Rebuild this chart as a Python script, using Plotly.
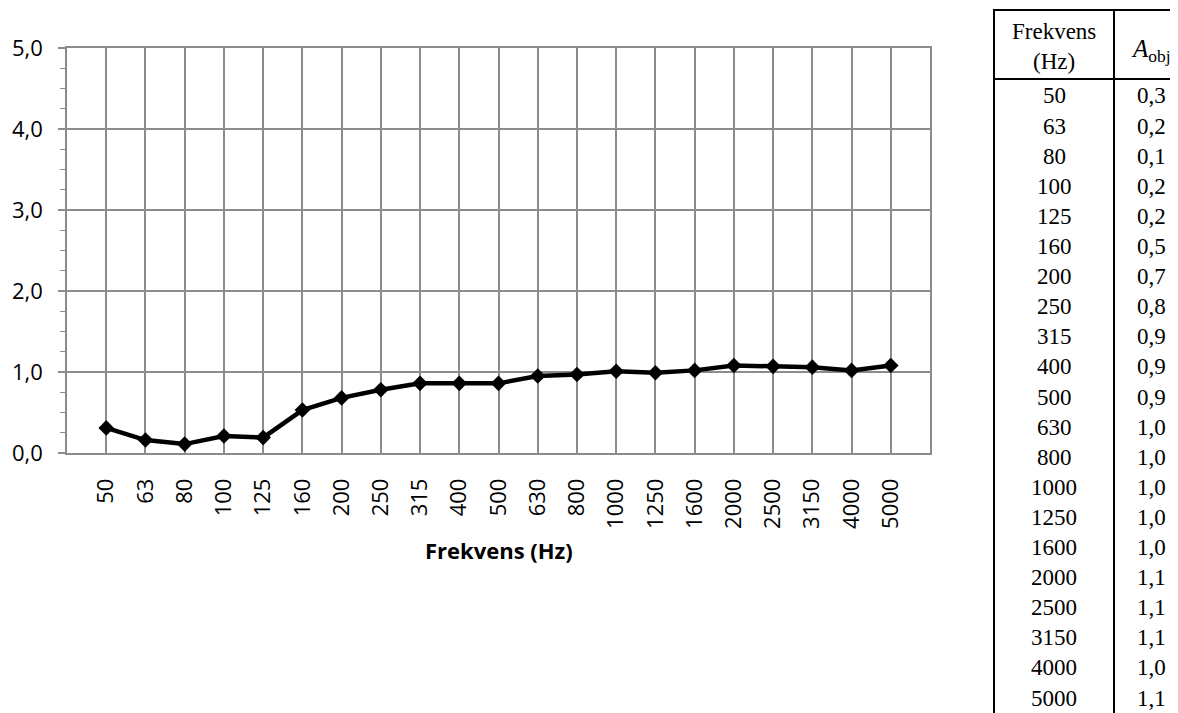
import plotly.graph_objects as go

# ---- data ----
freq_labels = ["50", "63", "80", "100", "125", "160", "200", "250", "315", "400", "500",
               "630", "800", "1000", "1250", "1600", "2000", "2500", "3150", "4000", "5000"]
a_obj = [0.31, 0.16, 0.11, 0.21, 0.19, 0.53, 0.68, 0.78, 0.86, 0.86, 0.86,
         0.95, 0.97, 1.01, 0.99, 1.02, 1.08, 1.07, 1.06, 1.02, 1.08]
table_vals = [0.3, 0.2, 0.1, 0.2, 0.2, 0.5, 0.7, 0.8, 0.9, 0.9, 0.9,
              1.0, 1.0, 1.0, 1.0, 1.0, 1.1, 1.1, 1.1, 1.0, 1.1]
y_ticks = [0, 1, 2, 3, 4, 5]
x_title = "Frekvens (Hz)"
table_header = ["Frekvens<br>(Hz)", "<i>A</i><sub>obj</sub>"]

# ---- layout geometry (pixels in the 1178x713 window; page body has 8px margin) ----
OFF = 8
W, H = 1178 - OFF, 713 - OFF
L, R, T, B = 67 - OFF, 930 - OFF, 48 - OFF, 453 - OFF
GRID = "#8c8c8c"


def px(x):
    return (x - OFF - L) / (R - L)


def py(y):
    return (B - (y - OFF)) / (B - T)


fig = go.Figure()
fig.add_trace(go.Scatter(
    x=list(range(len(freq_labels))),
    y=a_obj,
    mode="lines+markers",
    line=dict(color="black", width=4.5),
    marker=dict(symbol="diamond", size=12, color="black"),
    showlegend=False,
    hoverinfo="skip",
))

shapes = []
annotations = []

# table frame
tx0, tx1, txm = 994, 1190, 1114
ty0, ty1, tyh = 10, 725, 79
lw = 2
shapes.append(dict(type="rect", xref="paper", yref="paper",
                   x0=px(tx0), x1=px(tx1), y0=py(ty0), y1=py(ty1),
                   line=dict(color="black", width=lw)))
shapes.append(dict(type="line", xref="paper", yref="paper",
                   x0=px(txm), x1=px(txm), y0=py(ty0), y1=py(ty1),
                   line=dict(color="black", width=lw)))
shapes.append(dict(type="line", xref="paper", yref="paper",
                   x0=px(tx0), x1=px(tx1), y0=py(tyh), y1=py(tyh),
                   line=dict(color="black", width=lw)))

serif = "Liberation Serif, Times New Roman, serif"
c1, c2 = 1054, 1151
annotations.append(dict(text=table_header[0], xref="paper", yref="paper",
                        x=px(c1), y=py(46), showarrow=False,
                        font=dict(family=serif, size=23, color="black"),
                        xanchor="center", yanchor="middle"))
annotations.append(dict(text=table_header[1], xref="paper", yref="paper",
                        x=px(c2), y=py(50), showarrow=False,
                        font=dict(family=serif, size=25, color="black"),
                        xanchor="center", yanchor="middle"))
row0, row_h = 96, 30.1
for i, (f, v) in enumerate(zip(freq_labels, table_vals)):
    yy = py(row0 + i * row_h)
    annotations.append(dict(text=f, xref="paper", yref="paper", x=px(c1), y=yy,
                            showarrow=False, xanchor="center", yanchor="middle",
                            font=dict(family=serif, size=23, color="black")))
    annotations.append(dict(text=f"{v:.1f}".replace(".", ","), xref="paper", yref="paper",
                            x=px(c2), y=yy, showarrow=False, xanchor="center", yanchor="middle",
                            font=dict(family=serif, size=23, color="black")))

sans = "Open Sans, sans-serif"
# x-axis title
annotations.append(dict(text=f"<b>{x_title}</b>", xref="paper", yref="paper",
                        x=0.5, y=py(550), showarrow=False, xanchor="center", yanchor="middle",
                        font=dict(family=sans, size=22, color="black")))

fig.update_layout(
    width=W, height=H,
    margin=dict(l=L, r=W - R, t=T, b=H - B, autoexpand=False),
    paper_bgcolor="white", plot_bgcolor="white",
    separators=",.",
    shapes=shapes,
    annotations=annotations,
    xaxis=dict(
        range=[-1, len(freq_labels)],
        tickmode="array",
        tickvals=list(range(len(freq_labels))),
        ticktext=freq_labels,
        tickangle=-90,
        showgrid=True, gridcolor=GRID, gridwidth=1.6,
        showline=True, linecolor=GRID, linewidth=1.6, mirror=True,
        ticks="", zeroline=False,
        tickfont=dict(family=sans, size=22, color="black"),
        ticklabelstandoff=15,
        fixedrange=True,
    ),
    yaxis=dict(
        range=[0, 5],
        tickmode="array", tickvals=y_ticks,
        tickformat=".1f",
        showgrid=True, gridcolor=GRID, gridwidth=1.6,
        showline=True, linecolor=GRID, linewidth=1.6, mirror=True,
        ticks="outside", ticklen=7, tickcolor=GRID, tickwidth=1.6,
        minor=dict(dtick=0.25, ticks="outside", ticklen=5, tickcolor=GRID,
                   tickwidth=1.3, showgrid=False),
        zeroline=False,
        tickfont=dict(family=sans, size=22, color="black"),
        ticklabelstandoff=11,
        fixedrange=True,
    ),
)

fig.write_html("out.html")
